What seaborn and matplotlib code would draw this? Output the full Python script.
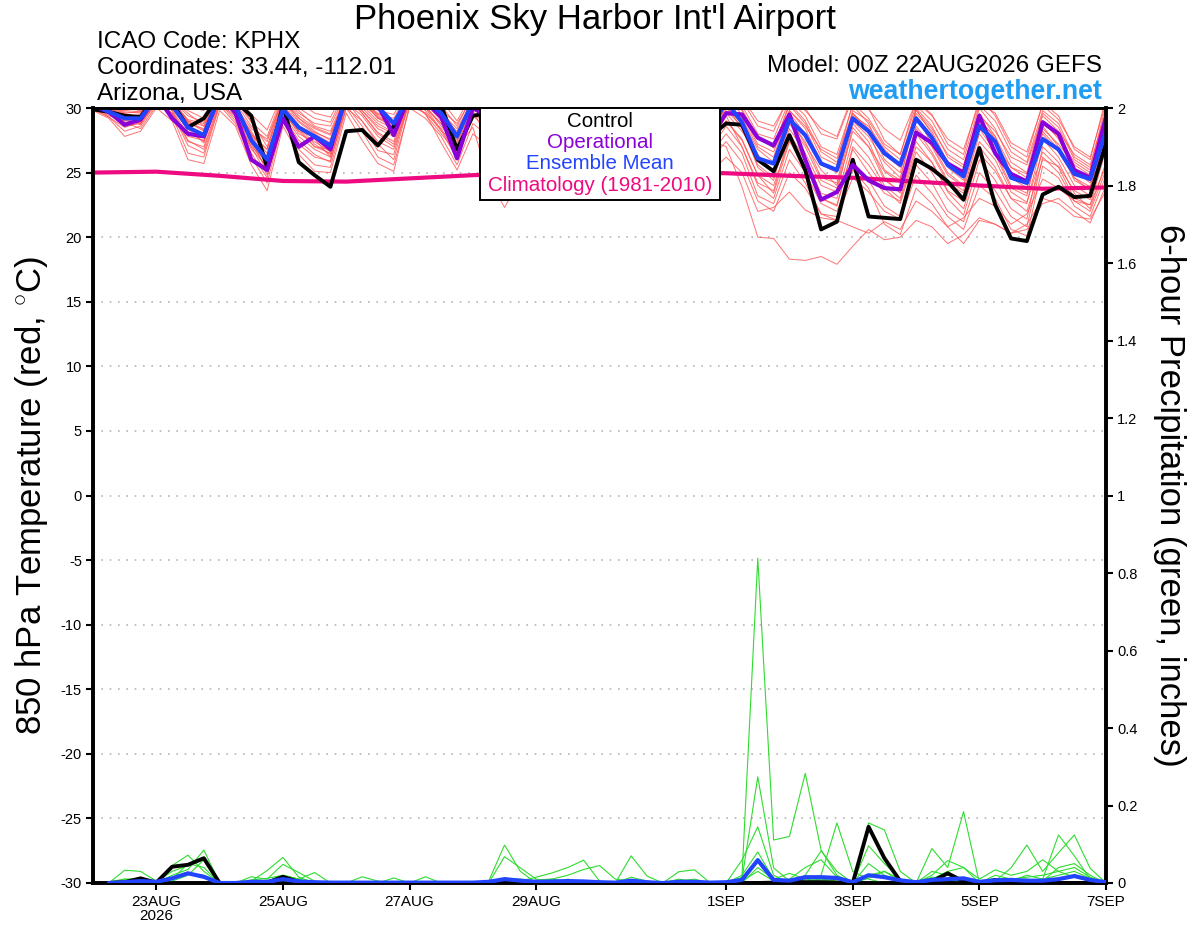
import numpy as np
import pandas as pd
import matplotlib
matplotlib.use("Agg")
import matplotlib.pyplot as plt
import seaborn as sns
from matplotlib.patches import Rectangle

# ---------------- data ----------------
times = pd.date_range("2026-08-22 00:00", periods=65, freq="6h")
clim_dates = pd.date_range("2026-08-22", periods=17, freq="D")

tick_dates = pd.to_datetime(["2026-08-23", "2026-08-25", "2026-08-27", "2026-08-29",
                             "2026-09-01", "2026-09-03", "2026-09-05", "2026-09-07"])
tick_labels = ["23AUG\n2026", "25AUG", "27AUG", "29AUG", "1SEP", "3SEP", "5SEP", "7SEP"]

climatology = [25.0, 25.07, 24.75, 24.35, 24.3, 24.55, 24.8, 24.95, 25.0, 25.05,
               24.95, 24.75, 24.6, 24.3, 24.0, 23.75, 23.85]

control_temp = [29.9, 29.7, 29.4, 29.3, 31.0, 30.4, 28.5, 29.2, 31.0, 30.5, 29.4, 25.4,
                30.2, 25.8, 24.8, 23.9, 28.2, 28.3, 27.1, 28.6, 31.0, 30.8, 30.2, 26.8,
                29.4, 29.6, 29.0, 28.2, 30.3, 29.5, 28.6, 28.0, 30.2, 29.4, 28.5, 27.9,
                30.0, 29.2, 28.4, 27.8, 28.8, 28.7, 26.0, 25.1, 27.9, 25.2, 20.6, 21.2,
                26.0, 21.6, 21.5, 21.4, 26.0, 25.3, 24.3, 22.9, 26.9, 22.5, 19.9, 19.7,
                23.3, 23.9, 23.1, 23.2, 27.3]

operational_temp = [30.2, 29.7, 28.7, 29.1, 31.0, 29.2, 28.0, 27.8, 31.0, 29.6, 26.0, 25.2,
                    29.2, 27.0, 27.8, 26.8, 31.0, 30.5, 30.2, 27.9, 31.0, 30.5, 29.3, 26.1,
                    30.0, 29.3, 28.3, 27.8, 30.6, 29.6, 28.8, 28.4, 30.4, 29.5, 28.7, 28.2,
                    30.1, 29.2, 28.5, 27.6, 29.6, 29.5, 27.7, 27.1, 29.5, 26.0, 22.9, 23.5,
                    25.6, 24.4, 23.8, 23.7, 28.1, 27.3, 25.7, 25.0, 29.4, 26.5, 24.9, 24.3,
                    28.9, 28.0, 25.2, 24.6, 29.3]

mean_temp = [30.3, 29.7, 29.2, 29.2, 30.8, 30.2, 28.5, 27.9, 31.0, 30.2, 27.5, 26.0,
             29.9, 28.5, 27.8, 27.1, 30.8, 30.3, 30.1, 28.8, 31.0, 30.6, 29.6, 27.8,
             30.5, 29.5, 28.5, 28.0, 30.5, 29.8, 29.0, 28.7, 30.5, 29.8, 29.0, 28.5,
             30.3, 29.5, 28.8, 28.3, 30.5, 28.9, 26.1, 25.7, 29.1, 27.9, 25.7, 25.2,
             29.2, 28.2, 26.5, 25.6, 29.2, 27.7, 25.6, 24.7, 28.6, 27.4, 24.6, 24.2,
             27.6, 26.8, 24.9, 24.5, 28.2]

ens_temp_members = [
    [30.1, 29.6, 29.0, 29.3, 31.0, 30.5, 29.0, 28.6, 31.0, 30.2, 28.0, 26.5, 30.2, 28.9, 28.0, 27.3,
     31.0, 30.6, 29.2, 28.5, 31.2, 30.4, 29.5, 27.5, 30.8, 29.5, 28.6, 28.2, 30.5, 29.6, 28.8, 28.4,
     30.3, 29.1, 28.0, 27.5, 29.5, 28.6, 28.0, 27.5, 27.0, 23.9, 20.0, 19.9, 18.3, 18.2, 18.5, 17.9,
     19.3, 20.6, 19.8, 20.0, 21.3, 20.8, 19.5, 20.2, 21.5, 21.0, 20.3, 20.6, 22.6, 23.0, 22.0, 21.1, 24.0],
    [30.5, 29.9, 29.4, 28.8, 30.6, 29.8, 27.5, 26.8, 30.4, 29.0, 26.5, 24.6, 29.4, 27.5, 26.4, 25.8,
     30.5, 29.0, 27.2, 26.0, 30.6, 29.5, 28.0, 26.5, 29.8, 27.5, 26.0, 25.5, 29.8, 28.5, 27.4, 26.8,
     29.6, 28.5, 27.3, 26.5, 29.0, 27.4, 26.2, 25.0, 26.2, 25.0, 22.0, 22.3, 23.5, 22.1, 21.5, 21.3,
     20.8, 20.3, 21.2, 20.6, 22.8, 22.0, 20.8, 21.5, 23.0, 22.4, 21.0, 21.8, 24.5, 23.8, 22.8, 22.5, 25.5],
    [30.4, 30.2, 29.6, 29.0, 31.2, 30.8, 28.8, 28.4, 31.4, 30.0, 27.2, 25.3, 30.0, 28.2, 27.0, 26.8,
     31.0, 29.6, 28.1, 27.4, 31.0, 30.2, 28.6, 27.0, 28.5, 24.5, 22.3, 24.5, 29.0, 28.2, 27.0, 26.0,
     30.0, 29.0, 27.8, 27.0, 30.2, 29.4, 28.0, 27.2, 29.0, 27.5, 24.8, 24.0, 27.5, 26.0, 23.0, 22.5,
     26.8, 25.0, 23.4, 22.8, 27.0, 25.8, 23.5, 22.2, 26.5, 25.1, 23.0, 22.0, 26.0, 25.5, 23.6, 22.9, 27.5],
    [30.8, 30.5, 30.2, 30.1, 31.5, 31.0, 30.1, 29.8, 31.6, 31.0, 29.5, 28.3, 31.2, 30.5, 29.6, 29.3,
     31.5, 31.2, 30.4, 30.0, 31.8, 31.4, 30.6, 29.0, 31.2, 30.6, 29.6, 29.0, 31.2, 30.6, 29.8, 29.4,
     31.0, 30.4, 29.7, 29.2, 31.0, 30.5, 29.6, 29.0, 31.2, 30.6, 28.6, 28.2, 31.0, 30.0, 28.0, 27.6,
     30.8, 29.9, 28.4, 27.5, 30.5, 29.4, 27.6, 26.8, 30.4, 29.6, 27.3, 26.6, 30.2, 29.1, 27.0, 26.2, 30.4],
    [30.0, 29.3, 28.2, 28.6, 30.4, 29.6, 27.8, 27.5, 30.6, 29.6, 27.0, 25.8, 29.8, 28.0, 27.4, 26.6,
     30.4, 29.4, 27.8, 27.0, 30.6, 29.8, 28.2, 27.4, 30.0, 29.0, 28.0, 27.4, 30.0, 29.2, 28.3, 27.9,
     30.4, 29.5, 28.6, 28.0, 30.5, 29.6, 28.4, 27.6, 30.2, 28.4, 25.6, 24.6, 28.4, 26.5, 24.0, 23.5,
     28.5, 27.0, 25.1, 24.2, 28.0, 26.4, 24.2, 23.4, 27.4, 26.0, 23.5, 22.7, 26.6, 25.4, 23.0, 22.5, 26.8],
    [30.3, 29.8, 29.3, 29.5, 31.0, 30.0, 28.6, 28.0, 31.0, 29.8, 27.8, 26.8, 30.6, 29.2, 28.4, 27.9,
     31.0, 30.2, 29.0, 28.4, 31.2, 30.8, 29.6, 28.4, 30.6, 29.8, 29.0, 28.6, 30.8, 30.0, 29.2, 28.6,
     30.6, 29.9, 29.0, 28.4, 30.4, 29.8, 29.0, 28.4, 30.8, 29.5, 27.2, 26.6, 29.8, 28.6, 26.8, 26.1,
     29.6, 28.4, 26.4, 25.4, 29.9, 28.0, 25.4, 24.4, 29.2, 27.6, 25.0, 24.4, 28.6, 27.0, 24.4, 23.7, 28.8],
    [30.6, 30.0, 29.8, 29.7, 31.3, 30.6, 29.4, 28.9, 31.2, 30.4, 28.6, 27.4, 30.8, 29.6, 28.8, 28.6,
     31.2, 30.4, 29.5, 29.2, 31.4, 30.9, 29.9, 28.0, 30.9, 30.0, 29.2, 28.8, 31.0, 30.2, 29.4, 29.0,
     30.9, 30.2, 29.3, 28.8, 30.8, 30.0, 29.2, 28.6, 31.0, 30.2, 28.0, 27.6, 30.6, 29.4, 27.0, 26.4,
     30.2, 28.8, 26.0, 25.0, 30.0, 28.6, 26.2, 25.4, 30.0, 28.4, 25.8, 25.0, 29.6, 28.5, 26.0, 25.2, 29.6],
    [29.8, 29.2, 27.8, 28.2, 30.0, 29.0, 26.0, 25.7, 29.8, 28.6, 25.6, 23.6, 28.6, 26.4, 25.1, 25.0,
     29.6, 27.5, 25.7, 25.1, 30.2, 29.6, 27.3, 25.2, 28.0, 27.0, 26.0, 25.6, 29.2, 28.0, 26.8, 26.0,
     29.4, 28.2, 27.0, 26.2, 29.6, 28.6, 27.2, 26.4, 28.0, 26.5, 23.2, 22.6, 26.0, 24.2, 21.8, 21.6,
     24.6, 23.5, 22.0, 21.4, 24.8, 23.4, 21.6, 20.6, 24.0, 23.0, 20.6, 20.1, 25.5, 24.6, 22.4, 21.6, 24.8],
    [30.2, 29.8, 29.4, 29.0, 30.8, 30.2, 28.2, 27.4, 31.0, 30.3, 27.6, 25.0, 30.1, 28.6, 27.6, 26.2,
     30.8, 29.8, 28.4, 27.8, 31.0, 30.4, 29.0, 27.8, 30.4, 29.4, 28.4, 28.0, 30.6, 29.8, 28.8, 28.3,
     30.4, 29.6, 28.6, 28.1, 30.0, 29.2, 28.0, 27.3, 29.6, 28.2, 26.4, 25.1, 29.2, 27.2, 25.2, 24.0,
     28.8, 27.4, 24.6, 23.4, 28.6, 27.0, 24.8, 23.9, 28.4, 26.6, 24.0, 23.4, 28.0, 26.6, 24.6, 23.9, 28.6],
    [30.5, 30.1, 29.1, 29.4, 31.1, 30.3, 28.9, 28.2, 31.2, 29.9, 28.2, 26.2, 30.5, 29.0, 28.1, 27.6,
     31.3, 30.6, 29.2, 28.8, 31.3, 30.6, 29.2, 26.6, 30.2, 29.2, 28.2, 27.8, 30.4, 29.6, 28.6, 28.1,
     30.2, 29.4, 28.2, 27.7, 30.6, 29.8, 28.8, 28.0, 30.4, 29.0, 26.8, 25.8, 29.6, 28.0, 25.6, 25.0,
     29.0, 27.8, 25.8, 24.6, 29.4, 27.2, 25.0, 24.0, 29.6, 27.8, 24.6, 23.8, 29.0, 27.6, 25.2, 24.2, 29.0],
    [30.2, 29.5, 28.9, 28.4, 30.2, 29.6, 27.1, 26.5, 30.3, 29.4, 26.8, 25.5, 29.2, 27.2, 26.2, 25.9,
     30.2, 28.6, 26.7, 26.4, 30.8, 30.0, 28.3, 26.0, 29.4, 28.3, 27.4, 26.8, 29.6, 28.6, 27.8, 27.2,
     29.8, 28.8, 27.8, 27.0, 29.8, 28.8, 27.6, 26.8, 29.0, 27.6, 24.8, 23.4, 27.4, 25.5, 23.0, 22.4,
     27.0, 25.6, 23.8, 22.6, 26.6, 25.0, 23.0, 21.7, 26.0, 24.4, 22.2, 21.4, 27.0, 25.8, 23.4, 22.2, 25.8],
    [30.7, 30.3, 30.0, 29.8, 31.4, 30.9, 29.8, 29.2, 31.3, 30.6, 28.9, 27.8, 31.0, 30.0, 29.2, 28.9,
     31.4, 30.8, 29.8, 29.5, 31.6, 31.0, 30.2, 28.6, 31.0, 30.2, 29.4, 29.0, 31.0, 30.4, 29.6, 29.2,
     31.0, 30.3, 29.5, 29.0, 30.9, 30.2, 29.4, 28.8, 31.4, 30.8, 29.0, 28.6, 30.8, 29.8, 28.4, 27.8,
     31.0, 30.0, 27.5, 26.4, 30.6, 29.5, 27.2, 26.4, 30.8, 29.4, 27.0, 26.2, 30.4, 29.4, 26.8, 26.0, 30.8],
    [30.0, 29.6, 28.6, 28.8, 30.6, 29.8, 28.0, 27.9, 30.8, 29.5, 27.4, 26.0, 29.6, 28.2, 27.8, 27.0,
     30.6, 29.8, 28.6, 28.0, 30.9, 30.0, 28.8, 27.2, 30.0, 29.2, 28.4, 27.9, 30.2, 29.4, 28.5, 28.0,
     30.0, 29.2, 28.4, 27.8, 30.2, 29.5, 28.6, 27.9, 30.0, 28.8, 26.0, 25.0, 29.0, 27.4, 24.6, 24.2,
     29.4, 28.6, 26.8, 25.6, 29.2, 27.8, 25.6, 24.8, 28.8, 27.2, 25.4, 24.6, 28.4, 27.2, 25.6, 24.8, 27.8],
    [30.4, 29.9, 29.5, 29.2, 30.9, 30.4, 28.4, 27.8, 30.8, 29.8, 27.9, 25.9, 30.2, 28.6, 27.2, 26.4,
     30.9, 30.0, 28.8, 28.1, 31.1, 30.4, 29.2, 27.7, 30.4, 29.5, 28.7, 28.3, 30.5, 29.7, 28.8, 28.4,
     30.3, 29.4, 28.5, 28.0, 30.0, 29.0, 27.8, 26.8, 28.6, 27.0, 24.0, 23.0, 26.8, 25.0, 22.6, 22.0,
     25.2, 23.8, 21.0, 20.2, 23.8, 22.6, 20.8, 19.5, 21.3, 21.0, 20.3, 21.0, 23.0, 22.6, 21.6, 21.4, 23.6],
    [30.6, 30.2, 29.7, 29.6, 31.2, 30.7, 29.6, 28.6, 31.3, 30.8, 29.0, 27.0, 30.9, 29.8, 28.6, 28.2,
     31.1, 30.5, 29.6, 28.9, 31.5, 30.8, 29.8, 28.8, 30.8, 30.0, 29.2, 28.8, 30.8, 30.1, 29.3, 28.9,
     30.7, 30.0, 29.2, 28.6, 30.6, 29.9, 28.9, 28.2, 30.6, 29.8, 27.6, 27.0, 30.2, 28.8, 26.2, 25.6,
     29.8, 29.0, 27.0, 26.0, 29.8, 28.4, 26.4, 25.6, 29.4, 28.2, 26.2, 25.6, 29.4, 28.2, 26.4, 25.6, 29.8],
    [30.1, 29.4, 29.0, 28.9, 30.5, 29.6, 27.4, 27.0, 30.5, 29.2, 27.0, 24.8, 29.5, 27.8, 26.8, 26.2,
     30.0, 29.0, 27.4, 26.8, 30.4, 29.6, 28.4, 26.3, 29.6, 28.6, 27.6, 27.2, 29.8, 29.0, 28.0, 27.5,
     29.9, 29.0, 28.0, 27.4, 29.9, 29.0, 28.0, 27.2, 29.4, 27.0, 24.2, 23.6, 28.0, 26.0, 23.4, 23.0,
     27.6, 26.2, 24.0, 23.0, 27.4, 25.8, 23.6, 22.8, 27.0, 25.4, 23.0, 22.6, 27.6, 26.2, 24.0, 23.2, 27.0],
    [30.3, 30.0, 29.6, 29.7, 31.0, 30.5, 29.1, 28.8, 31.1, 30.1, 28.4, 27.6, 30.7, 29.4, 28.5, 28.0,
     31.0, 30.3, 29.3, 28.6, 31.2, 30.6, 29.4, 28.2, 30.6, 29.9, 29.1, 28.7, 30.7, 30.0, 29.1, 28.7,
     30.5, 29.8, 29.0, 28.5, 30.5, 29.7, 28.8, 28.1, 30.9, 29.9, 27.8, 26.9, 30.4, 29.0, 26.6, 25.8,
     30.4, 29.2, 27.2, 26.4, 30.2, 29.0, 26.8, 26.0, 30.2, 29.0, 26.6, 25.8, 29.8, 28.8, 26.2, 25.4, 30.2],
    [29.9, 29.3, 28.5, 28.9, 30.3, 29.4, 26.5, 26.2, 30.2, 28.8, 26.2, 24.2, 28.9, 26.8, 25.6, 25.4,
     30.0, 28.2, 26.2, 25.6, 30.0, 29.2, 27.8, 25.6, 28.8, 27.8, 26.8, 26.2, 29.4, 28.4, 27.4, 26.8,
     29.5, 28.4, 27.4, 26.8, 29.4, 28.4, 27.0, 26.0, 27.4, 25.8, 22.8, 22.0, 25.0, 23.8, 21.8, 21.3,
     25.8, 24.4, 22.4, 21.6, 25.6, 24.2, 22.0, 21.2, 25.0, 23.6, 21.6, 20.8, 26.2, 25.0, 22.8, 22.0, 25.2],
    [30.5, 30.0, 29.5, 29.4, 31.1, 30.6, 29.0, 28.3, 31.1, 30.2, 28.0, 26.8, 30.6, 29.2, 28.2, 27.5,
     31.2, 30.7, 29.4, 28.7, 31.3, 30.7, 29.6, 27.9, 30.7, 29.8, 28.9, 28.5, 30.7, 29.9, 29.0, 28.6,
     30.6, 29.8, 28.9, 28.4, 30.4, 29.6, 28.6, 27.8, 30.3, 29.2, 27.0, 26.2, 29.8, 28.4, 25.8, 25.2,
     29.6, 28.2, 25.2, 24.4, 29.6, 28.2, 25.8, 25.0, 29.0, 27.8, 25.4, 24.9, 28.8, 27.8, 25.8, 25.0, 29.2],
    [30.2, 29.7, 29.2, 28.7, 30.7, 29.9, 28.4, 27.3, 30.9, 29.9, 27.3, 25.7, 30.0, 28.4, 27.0, 26.5,
     30.8, 29.6, 28.0, 27.2, 30.8, 30.1, 28.8, 26.9, 30.0, 29.0, 28.0, 27.6, 30.2, 29.4, 28.4, 27.8,
     30.1, 29.3, 28.3, 27.6, 30.1, 29.3, 28.2, 27.4, 29.8, 28.6, 25.4, 24.4, 28.8, 27.0, 24.4, 23.8,
     28.2, 27.0, 24.4, 23.6, 28.4, 26.6, 24.4, 23.6, 28.0, 26.4, 23.8, 23.2, 28.2, 26.8, 24.6, 23.6, 28.0],
]

# 6-hour precipitation (inches), index 0 = 22AUG 00Z (not plotted)
control_precip = [0, 0, 0.002, 0.012, 0.001, 0.042, 0.047, 0.064, 0, 0, 0, 0.001, 0.016, 0.003, 0, 0,
                  0, 0, 0, 0, 0, 0, 0, 0, 0, 0, 0, 0, 0, 0, 0, 0,
                  0, 0, 0, 0, 0, 0, 0, 0, 0, 0, 0, 0.001, 0.004, 0.002, 0.002, 0.001,
                  0, 0.145, 0.064, 0.005, 0, 0.004, 0.025, 0.004, 0, 0.008, 0.002, 0, 0, 0, 0, 0, 0]

mean_precip = [0, 0, 0.002, 0.005, 0.003, 0.012, 0.025, 0.016, 0, 0, 0.003, 0.003, 0.01, 0.004, 0.002, 0.001,
               0.001, 0.001, 0.001, 0.001, 0.001, 0.001, 0.001, 0.001, 0.001, 0.003, 0.01, 0.006, 0.003, 0.004, 0.005, 0.004,
               0.002, 0.001, 0.006, 0.002, 0, 0.003, 0.003, 0.001, 0.002, 0.008, 0.059, 0.008, 0.006, 0.015, 0.015, 0.013,
               0.002, 0.02, 0.015, 0.007, 0.002, 0.008, 0.01, 0.012, 0.003, 0.007, 0.008, 0.006, 0.006, 0.01, 0.018, 0.008, 0.002]

ens_precip_members = [
    [0, 0.003, 0.01, 0.012, 0.003, 0.03, 0.045, 0.06, 0, 0, 0.008, 0.012, 0.02, 0.01, 0, 0,
     0, 0, 0, 0, 0, 0, 0, 0, 0, 0, 0.012, 0.01, 0.005, 0.01, 0.02, 0.035,
     0.045, 0.01, 0.005, 0.003, 0, 0.005, 0.01, 0, 0, 0.015, 0.838, 0.111, 0.12, 0.283, 0.085, 0.02,
     0, 0.02, 0.03, 0.01, 0, 0.015, 0.01, 0, 0, 0.005, 0.01, 0.015, 0.02, 0.03, 0.015, 0.005, 0],
    [0, 0, 0.005, 0.008, 0, 0.02, 0.035, 0.085, 0, 0.003, 0.005, 0.032, 0.066, 0.015, 0, 0,
     0, 0.016, 0.005, 0, 0, 0, 0, 0, 0, 0.005, 0.098, 0.03, 0, 0, 0.01, 0,
     0, 0, 0.07, 0.018, 0, 0, 0, 0, 0, 0.01, 0.274, 0.039, 0.005, 0.01, 0.02, 0.155,
     0.03, 0.01, 0, 0, 0, 0.089, 0.04, 0.184, 0, 0.01, 0.005, 0.02, 0.01, 0.124, 0.07, 0.01, 0],
    [0, 0, 0.033, 0.03, 0.005, 0.045, 0.072, 0.03, 0, 0, 0.016, 0.01, 0.048, 0.027, 0.005, 0,
     0, 0, 0, 0.013, 0, 0, 0, 0, 0, 0, 0.068, 0.039, 0.01, 0.005, 0, 0,
     0, 0, 0.015, 0.005, 0, 0.029, 0.034, 0, 0, 0.059, 0.145, 0.02, 0, 0.02, 0.083, 0.03,
     0, 0.155, 0.137, 0.03, 0, 0.02, 0.058, 0.04, 0, 0.005, 0.039, 0.098, 0.03, 0.078, 0.124, 0.038, 0],
    [0, 0.002, 0, 0.005, 0, 0.01, 0.05, 0.04, 0, 0, 0, 0.005, 0.02, 0.01, 0.027, 0,
     0, 0, 0, 0, 0, 0.016, 0, 0, 0, 0, 0.01, 0.005, 0.015, 0.026, 0.04, 0.059,
     0.005, 0, 0, 0, 0, 0, 0.005, 0, 0, 0.005, 0.03, 0.005, 0.01, 0.04, 0.06, 0.015,
     0, 0.096, 0.05, 0.01, 0, 0.01, 0.03, 0.04, 0.01, 0.034, 0.02, 0.03, 0.06, 0.03, 0.04, 0.015, 0],
    [0, 0, 0.01, 0.004, 0, 0.015, 0.025, 0.02, 0, 0, 0.004, 0, 0.01, 0.006, 0, 0,
     0, 0, 0, 0, 0, 0, 0, 0, 0, 0, 0.005, 0, 0, 0.003, 0.008, 0.003,
     0, 0, 0.005, 0, 0, 0.01, 0.004, 0, 0, 0.02, 0.08, 0.01, 0, 0.005, 0.01, 0.005,
     0, 0.05, 0.02, 0.005, 0, 0.03, 0.02, 0.01, 0, 0.02, 0.01, 0.01, 0.005, 0.04, 0.05, 0.02, 0],
    [0, 0, 0, 0, 0, 0.005, 0.02, 0.06, 0, 0, 0, 0, 0.005, 0, 0, 0,
     0, 0, 0, 0, 0, 0, 0, 0, 0, 0, 0, 0, 0.008, 0.01, 0.004, 0,
     0, 0, 0, 0, 0, 0.005, 0.003, 0, 0, 0, 0.04, 0.01, 0.025, 0.01, 0.005, 0.01,
     0, 0.012, 0.03, 0.005, 0.003, 0.005, 0.01, 0.005, 0, 0, 0.005, 0.005, 0.01, 0.02, 0.03, 0.012, 0],
]

# ---------------- style ----------------
sns.set_theme(style="white")
plt.rcParams["font.family"] = ["Liberation Sans", "DejaVu Sans"]
plt.rcParams["mathtext.fontset"] = "custom"
plt.rcParams["mathtext.rm"] = "Liberation Sans"
plt.rcParams["text.color"] = "black"
plt.rcParams["axes.labelcolor"] = "black"
plt.rcParams["xtick.color"] = "black"
plt.rcParams["ytick.color"] = "black"

RED = "#ff5050"
GREEN = "#2fdc2f"
BLUE = "#2244ff"
PURPLE = "#8a00d8"
PINK = "#ee0a80"

fig = plt.figure(figsize=(12, 9.27), dpi=100)
ax = fig.add_axes([93 / 1200, 1 - 883 / 927, (1106 - 93) / 1200, (883 - 108) / 927])
ax2 = ax.twinx()

# temperature ensemble members
red_df = pd.DataFrame({
    "time": np.tile(times, len(ens_temp_members)),
    "temp": np.concatenate(ens_temp_members),
    "member": np.repeat(np.arange(len(ens_temp_members)), len(times)),
})
sns.lineplot(data=red_df, x="time", y="temp", units="member", estimator=None,
             color=RED, lw=0.7, alpha=0.8, ax=ax, legend=False, zorder=2)

sns.lineplot(x=clim_dates, y=climatology, color=PINK, lw=3, ax=ax, zorder=3)
sns.lineplot(x=times, y=control_temp, color="black", lw=2.8, ax=ax, zorder=4)
sns.lineplot(x=times, y=operational_temp, color=PURPLE, lw=3, ax=ax, zorder=5)
sns.lineplot(x=times, y=mean_temp, color=BLUE, lw=3, ax=ax, zorder=6)

# precipitation
ptimes = times[1:]
green_df = pd.DataFrame({
    "time": np.tile(ptimes, len(ens_precip_members)),
    "precip": np.concatenate([m[1:] for m in ens_precip_members]),
    "member": np.repeat(np.arange(len(ens_precip_members)), len(ptimes)),
})
sns.lineplot(data=green_df, x="time", y="precip", units="member", estimator=None,
             color=GREEN, lw=0.8, ax=ax2, legend=False, zorder=2)
sns.lineplot(x=ptimes, y=control_precip[1:], color="black", lw=2.8, ax=ax2, zorder=4)
sns.lineplot(x=ptimes, y=mean_precip[1:], color=BLUE, lw=3, ax=ax2, zorder=5)

# axes limits and ticks
ax.set_xlim(times[0], times[-1])
ax.set_ylim(-30, 30)
ax2.set_ylim(0, 2)
ax.set_yticks(np.arange(-30, 31, 5))
ax.set_yticklabels([f"{v:d}" for v in np.arange(-30, 31, 5)], fontsize=10.5)
pticks = np.round(np.arange(0, 2.01, 0.2), 1)
ax2.set_yticks(pticks)
ax2.set_yticklabels([("%g" % v) for v in pticks], fontsize=10.5)
ax.set_xticks(tick_dates)
ax.set_xticklabels(tick_labels, fontsize=11, linespacing=1.0)

for v in np.arange(-25, 30, 5):
    ax.axhline(v, color="#b4b4b4", lw=1.2, ls=(0, (1, 4)), zorder=1)

ax.tick_params(axis="both", direction="out", length=5, width=1.5, colors="black", pad=3)
ax.tick_params(axis="x", pad=4)
ax2.tick_params(axis="y", direction="out", length=5, width=1.5, colors="black", pad=3)
ax.tick_params(left=True, bottom=True)
ax2.tick_params(right=True)

for a in (ax, ax2):
    for side in ("left", "right", "bottom"):
        a.spines[side].set_linewidth(2.6)
        a.spines[side].set_color("black")
    a.spines["top"].set_linewidth(2.0)
    a.spines["top"].set_color("black")

ax.set_xlabel("")
ax.set_ylabel(r"850 hPa Temperature (red, $^{\circ}$C)", fontsize=25, va="center")
ax.yaxis.set_label_coords(-0.061, 0.5)
ax2.set_xlabel("")
ax2.set_ylabel("6-hour Precipitation (green, inches)", fontsize=25, rotation=270, va="center")
ax2.yaxis.set_label_coords(1.063, 0.5)

# legend box
x0 = (480 - 93) / 1013
x1 = (720 - 93) / 1013
y0 = (883 - 200) / 775
box = Rectangle((x0, y0), x1 - x0, 1 - y0, transform=ax2.transAxes, facecolor="white",
                edgecolor="black", lw=1.4, zorder=20, clip_on=False)
ax2.add_patch(box)
xc = (x0 + x1) / 2
for text, col, ypix in [("Control", "black", 121), ("Operational", PURPLE, 142),
                        ("Ensemble Mean", BLUE, 163), ("Climatology (1981-2010)", PINK, 185)]:
    ax2.text(xc, (883 - ypix) / 775, text, color=col, fontsize=14.8, ha="center", va="center",
             transform=ax2.transAxes, zorder=21)

# header texts
fig.text(595 / 1200, 1 - 20 / 927, "Phoenix Sky Harbor Int'l Airport", fontsize=25,
         ha="center", va="center", color="black")
fig.text(97 / 1200, 1 - 42 / 927, "ICAO Code: KPHX", fontsize=17.5, ha="left", va="center")
fig.text(97 / 1200, 1 - 68 / 927, "Coordinates: 33.44, -112.01", fontsize=17.5, ha="left", va="center")
fig.text(97 / 1200, 1 - 94 / 927, "Arizona, USA", fontsize=17.5, ha="left", va="center")
fig.text(1102 / 1200, 1 - 66 / 927, "Model: 00Z 22AUG2026 GEFS", fontsize=17.5, ha="right", va="center")
fig.text(1102 / 1200, 1 - 92 / 927, "weathertogether.net", fontsize=19.3, fontweight="bold",
         ha="right", va="center", color="#1f9df5")

fig.savefig("out.png", dpi=100)
